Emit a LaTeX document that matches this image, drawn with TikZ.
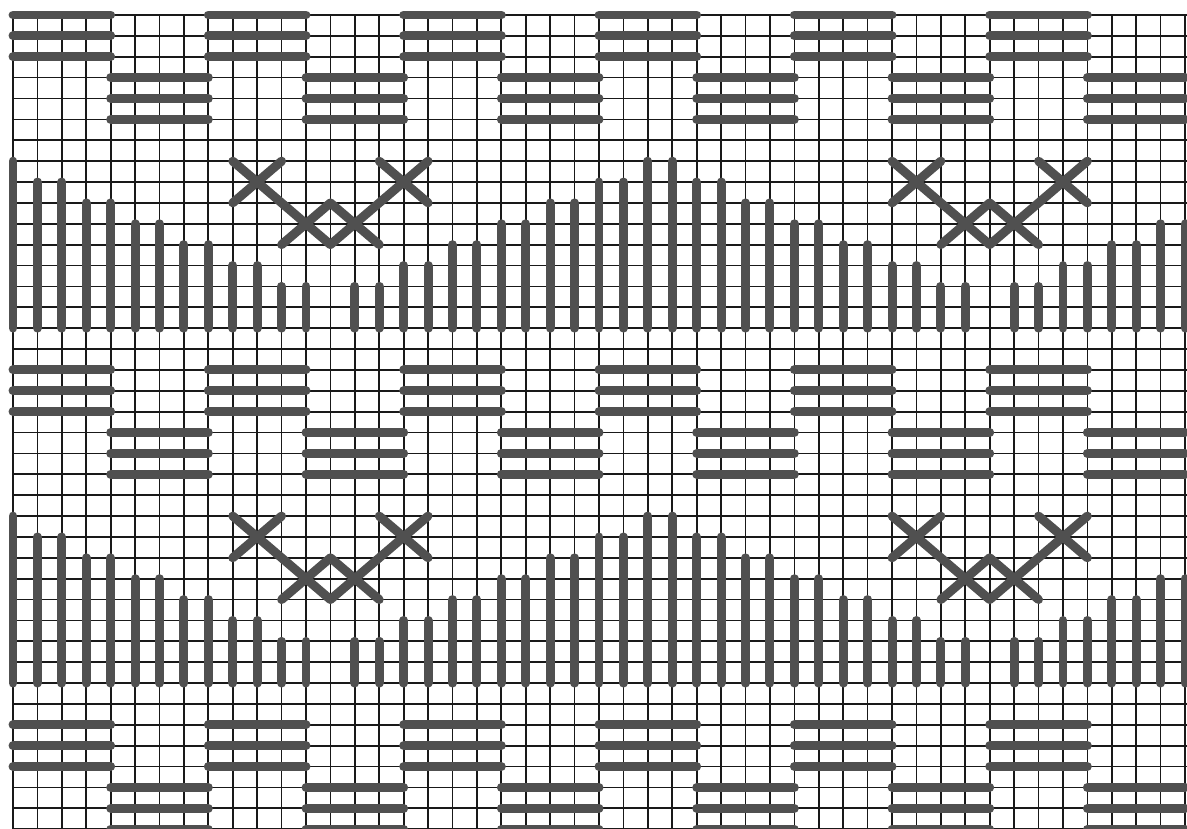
\documentclass[tikz,border=0pt]{standalone}
\definecolor{gridink}{RGB}{25,25,25}
\definecolor{woolgray}{RGB}{80,80,80}
\tikzset{chart/.style={x=0.5cm,y=-0.4275cm},
  gridrule/.style={gridink,line width=1pt},
  stitch/.style={woolgray,line width=5.2pt,line cap=round,line join=round}}

\begin{document}
\begin{tikzpicture}[chart]
    \path[use as bounding box,fill=white] (-0.532,-0.718) rectangle (48.08,38.98);
    % canvas grid
    \foreach \c in {0,...,48} \draw[gridrule] (\c,0) -- (\c,38.98);
    \foreach \r in {0,...,39} \draw[gridrule] (0,\r) -- (48.08,\r);
    % brick rows of straight stitches
    \foreach \b in {0,17,34} {
      \foreach \c in {0,8,...,40} \foreach \r in {0,1,2} \draw[stitch] (\c,\b+\r) -- (\c+4,\b+\r);
      \foreach \c in {4,12,...,44} \foreach \r in {3,4,5} \draw[stitch] (\c,\b+\r) -- (\c+4,\b+\r);
    }
    % wave bands and crossed motifs
    \foreach \b in {0,17} {
      \foreach \c/\t in {0/7,1/8,2/8,3/9,4/9,5/10,6/10,7/11,8/11,9/12,10/12,11/13,12/13,
                         14/13,15/13,16/12,17/12,18/11,19/11,20/10,21/10,22/9,23/9,24/8,25/8,26/7,27/7,
                         28/8,29/8,30/9,31/9,32/10,33/10,34/11,35/11,36/12,37/12,38/13,39/13,
                         41/13,42/13,43/12,44/12,45/11,46/11,47/10,48/10}
        \draw[stitch] (\c,\b+\t) -- (\c,\b+15);
      \foreach \o in {0,27} {
        \draw[stitch] (9+\o,\b+7) -- (13+\o,\b+11) -- (17+\o,\b+7);
        \draw[stitch] (11+\o,\b+7) -- (9+\o,\b+9);
        \draw[stitch] (15+\o,\b+7) -- (17+\o,\b+9);
        \draw[stitch] (11+\o,\b+11) -- (13+\o,\b+9) -- (15+\o,\b+11);
      }
    }
\end{tikzpicture}
\end{document}
